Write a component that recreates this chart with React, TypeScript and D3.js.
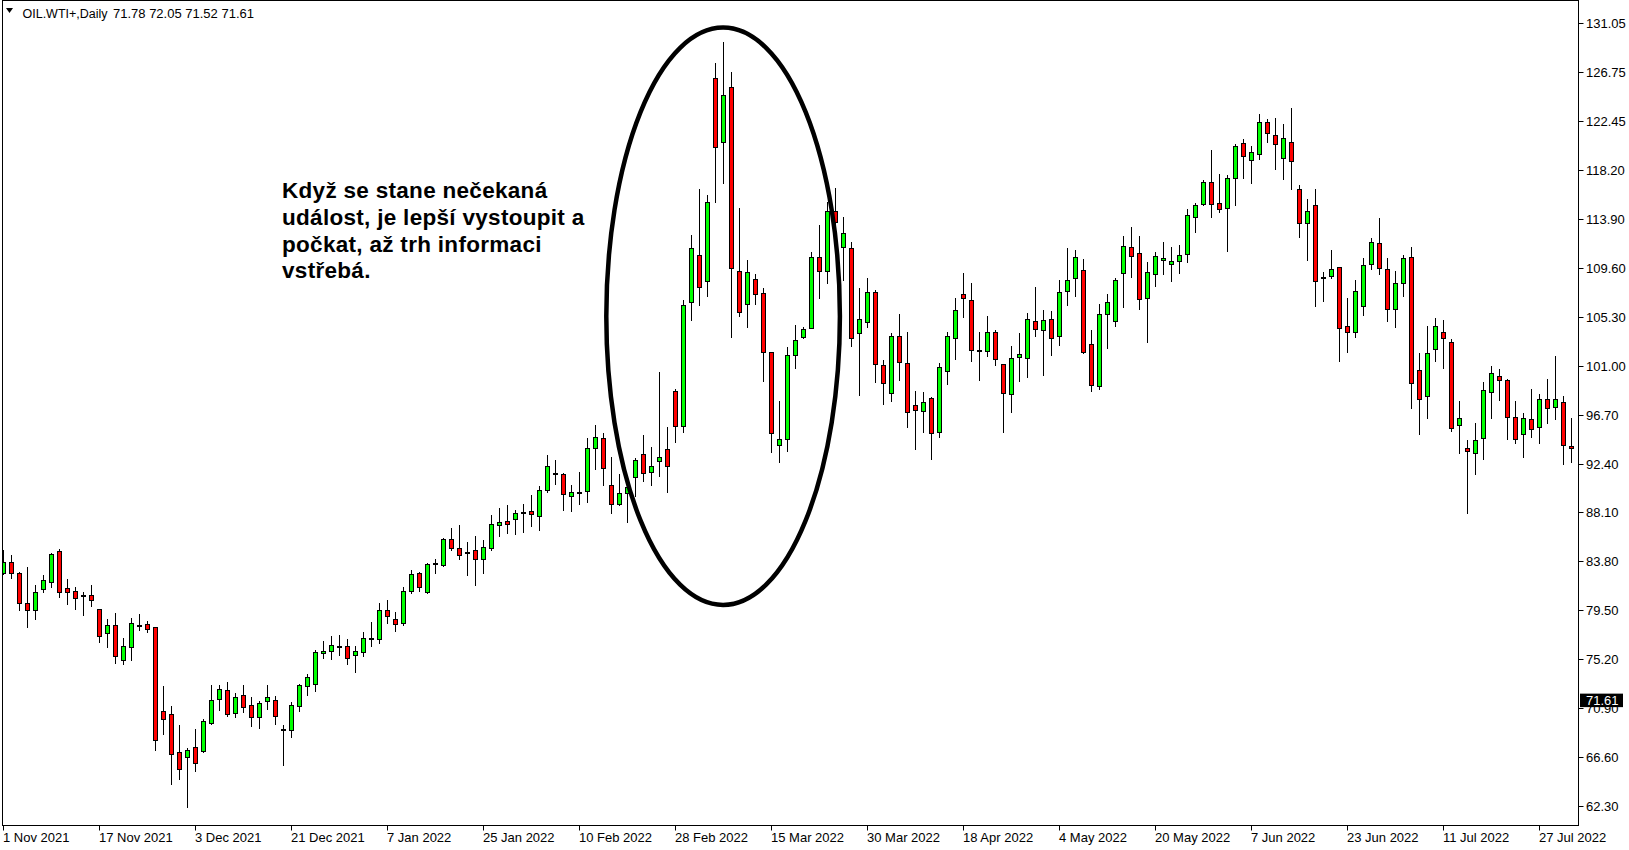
import React from "react";
import * as d3 from "d3";

// ---- Data ----
const opens = [
  82.79, 83.76, 82.74, 80.10, 79.49, 81.39, 82.00, 84.70, 81.42, 81.19,
  80.81, 80.83, 79.58, 77.47, 78.17, 75.10, 76.24, 78.20, 78.26, 77.99,
  70.62, 70.36, 67.03, 66.59, 67.46, 67.17, 69.63, 71.68, 72.47, 70.45,
  72.03, 71.15, 70.10, 71.50, 71.59, 69.08, 69.02, 71.13, 72.88, 73.00,
  75.72, 75.90, 76.33, 76.33, 75.55, 75.81, 77.04, 76.95, 79.49, 78.70,
  78.35, 81.16, 82.74, 81.07, 83.65, 83.44, 85.76, 84.94, 84.61, 84.76,
  83.97, 84.99, 87.01, 87.31, 87.54, 88.15, 88.18, 87.74, 90.08, 91.57,
  91.43, 89.55, 89.90, 89.93, 93.71, 94.59, 90.46, 88.85, 89.76, 91.16,
  93.18, 91.60, 92.57, 93.62, 98.74, 95.69, 106.58, 110.64, 108.42, 126.18,
  120.62, 125.39, 109.24, 106.40, 108.54, 107.31, 102.19, 93.97, 94.49, 101.87,
  103.45, 104.24, 110.53, 109.24, 114.51, 111.41, 111.26, 103.80, 104.77, 107.40,
  100.99, 98.53, 103.54, 101.17, 97.48, 96.95, 98.10, 95.11, 100.47, 103.36,
  107.22, 106.70, 102.37, 102.22, 103.89, 101.08, 98.45, 101.70, 101.61, 104.85,
  104.06, 105.03, 103.60, 107.49, 108.63, 109.33, 102.84, 99.15, 105.47, 104.86,
  109.07, 111.35, 110.82, 106.87, 108.98, 110.21, 109.86, 110.12, 110.74, 113.98,
  115.18, 117.06, 115.21, 114.77, 117.41, 120.48, 119.00, 119.51, 122.32, 121.18,
  119.16, 120.57, 116.44, 113.46, 115.04, 108.75, 108.83, 109.60, 104.41, 103.89,
  106.23, 109.86, 111.70, 109.48, 105.91, 108.19, 110.47, 100.55, 98.27, 102.40,
  103.89, 103.01, 95.72, 93.71, 93.27, 94.58, 98.62, 100.03, 99.67, 96.43,
  94.94, 96.25, 95.55, 98.01, 97.31, 97.74, 93.88,
];
const highs = [
  84.78, 84.35, 82.82, 83.29, 81.71, 82.59, 84.55, 84.87, 82.24, 81.57,
  81.13, 81.71, 79.58, 78.73, 79.25, 77.06, 78.82, 79.17, 78.52, 77.99,
  72.88, 71.09, 69.42, 67.38, 69.07, 69.98, 72.94, 72.94, 73.17, 72.20,
  72.94, 71.85, 71.50, 72.94, 71.98, 69.43, 71.45, 73.00, 73.91, 76.01,
  76.80, 77.24, 77.33, 76.98, 76.36, 77.59, 78.47, 80.14, 80.40, 79.35,
  81.51, 83.03, 82.83, 83.62, 84.00, 85.81, 86.72, 86.98, 85.49, 86.02,
  85.67, 87.83, 88.45, 88.74, 88.30, 88.83, 89.61, 90.40, 93.12, 92.65,
  91.54, 90.49, 91.63, 94.61, 95.76, 95.05, 92.95, 91.45, 90.63, 92.83,
  94.88, 93.80, 100.43, 95.58, 98.88, 106.72, 112.43, 116.47, 115.94, 127.55,
  129.34, 126.74, 114.77, 110.24, 109.00, 107.75, 102.19, 97.86, 102.57, 104.53,
  104.38, 110.91, 113.28, 115.36, 116.55, 114.04, 111.79, 107.75, 108.63, 107.60,
  101.46, 103.80, 105.50, 103.92, 98.71, 98.62, 98.18, 101.17, 103.92, 106.87,
  109.07, 108.19, 103.92, 105.29, 104.09, 101.08, 102.69, 103.80, 105.56, 107.84,
  105.85, 105.76, 108.48, 111.26, 111.12, 110.30, 104.09, 106.35, 107.25, 108.63,
  112.35, 113.14, 112.35, 110.03, 110.91, 111.79, 111.35, 111.53, 114.69, 115.21,
  117.26, 119.89, 117.79, 117.67, 120.42, 120.83, 120.22, 123.02, 122.59, 122.67,
  122.18, 123.55, 116.79, 115.56, 116.44, 109.21, 111.09, 109.60, 106.87, 108.48,
  110.38, 112.14, 113.89, 110.38, 109.24, 110.65, 111.35, 102.04, 104.44, 105.15,
  104.97, 103.27, 97.86, 94.41, 95.90, 99.50, 100.90, 100.64, 99.76, 97.86,
  96.81, 98.88, 98.45, 99.76, 101.78, 98.27, 96.34,
];
const lows = [
  82.65, 82.36, 79.52, 78.06, 78.76, 81.10, 81.57, 80.69, 80.07, 79.63,
  79.11, 79.90, 76.74, 76.30, 74.90, 74.81, 75.16, 77.79, 77.62, 67.26,
  68.66, 64.28, 64.71, 62.26, 65.42, 67.08, 69.48, 70.77, 70.24, 70.16,
  70.57, 69.37, 69.19, 70.86, 69.55, 65.92, 68.41, 70.69, 72.09, 72.44,
  75.34, 75.25, 75.60, 74.81, 74.11, 75.52, 76.39, 76.60, 78.41, 77.71,
  78.24, 81.04, 81.22, 80.99, 82.80, 83.41, 84.82, 84.03, 82.62, 81.75,
  82.80, 84.82, 86.05, 86.31, 86.22, 86.40, 86.92, 86.57, 89.90, 90.61,
  88.32, 88.24, 88.85, 89.03, 91.92, 90.52, 88.06, 88.76, 87.27, 89.52,
  90.87, 90.52, 91.31, 89.90, 94.29, 95.17, 104.97, 106.29, 107.08, 115.36,
  117.02, 103.51, 105.35, 104.38, 106.37, 99.64, 93.41, 92.54, 93.50, 100.78,
  103.36, 104.24, 106.93, 108.25, 111.11, 108.48, 102.72, 98.40, 104.39, 99.56,
  97.63, 97.89, 99.73, 95.61, 93.68, 95.17, 92.80, 94.73, 99.38, 101.58,
  105.26, 101.40, 99.73, 101.81, 101.05, 95.17, 96.93, 99.65, 100.00, 103.57,
  100.14, 101.90, 102.78, 106.32, 107.11, 102.04, 98.77, 98.89, 102.54, 104.48,
  106.14, 108.78, 105.97, 103.07, 107.99, 109.04, 108.43, 109.13, 110.09, 112.73,
  115.07, 114.04, 114.45, 111.06, 115.10, 117.47, 117.03, 119.13, 120.62, 118.20,
  117.32, 116.50, 112.23, 110.27, 106.23, 106.67, 108.63, 101.40, 102.19, 103.51,
  105.41, 109.48, 109.04, 104.91, 104.39, 107.11, 97.28, 94.99, 96.40, 101.40,
  100.79, 95.20, 93.33, 88.06, 91.48, 92.74, 96.40, 97.98, 94.50, 94.15,
  92.92, 94.67, 94.15, 95.90, 96.25, 92.30, 92.48,
];
const closes = [
  83.76, 82.74, 80.10, 79.49, 81.07, 82.12, 84.43, 81.13, 81.07, 80.60,
  80.81, 80.43, 77.27, 78.17, 75.51, 76.33, 78.35, 78.20, 77.88, 68.08,
  69.92, 66.85, 65.53, 67.20, 66.06, 69.81, 71.59, 72.56, 70.42, 71.85,
  70.97, 70.10, 71.33, 71.85, 70.19, 69.08, 71.16, 72.91, 73.61, 75.81,
  75.90, 76.42, 76.33, 75.28, 75.90, 77.04, 77.04, 79.49, 78.97, 78.32,
  81.16, 82.65, 81.51, 83.53, 83.65, 85.76, 84.94, 84.32, 84.61, 83.97,
  85.02, 87.04, 87.22, 87.10, 88.01, 88.15, 87.91, 90.02, 92.13, 91.57,
  89.67, 89.85, 89.90, 93.71, 94.67, 91.95, 88.79, 89.82, 90.28, 92.65,
  91.51, 92.13, 92.92, 92.20, 95.69, 106.26, 111.26, 107.89, 115.30, 120.18,
  124.69, 109.50, 105.70, 109.15, 107.28, 102.19, 95.02, 94.49, 101.87, 103.18,
  104.21, 110.53, 109.24, 114.51, 113.60, 112.58, 103.36, 105.03, 107.40, 101.08,
  99.41, 103.54, 101.26, 96.87, 97.04, 97.74, 95.02, 100.85, 103.54, 105.82,
  106.87, 102.31, 102.37, 103.89, 101.52, 98.53, 101.61, 101.96, 105.03, 104.15,
  104.94, 103.36, 107.40, 108.45, 110.47, 102.19, 99.24, 105.47, 106.52, 108.45,
  111.44, 110.56, 106.79, 109.16, 110.56, 110.44, 110.12, 110.65, 114.16, 115.04,
  117.06, 115.12, 114.69, 117.41, 120.22, 119.34, 119.69, 122.32, 121.36, 120.39,
  120.92, 118.90, 113.46, 114.51, 108.37, 108.75, 109.48, 104.24, 103.89, 107.49,
  109.77, 111.79, 109.56, 105.91, 108.19, 110.38, 99.41, 98.01, 102.04, 104.41,
  103.36, 95.46, 96.34, 93.44, 94.41, 98.80, 100.29, 99.67, 96.43, 94.50,
  96.34, 95.37, 98.01, 97.22, 98.01, 93.97, 93.71,
];

const priceTickLabels = [
  "62.30", "66.60", "70.90", "75.20", "79.50", "83.80", "88.10", "92.40",
  "96.70", "101.00", "105.30", "109.60", "113.90", "118.20", "122.45", "126.75", "131.05",
];
const dateLabels = [
  "1 Nov 2021", "17 Nov 2021", "3 Dec 2021", "21 Dec 2021", "7 Jan 2022",
  "25 Jan 2022", "10 Feb 2022", "28 Feb 2022", "15 Mar 2022", "30 Mar 2022",
  "18 Apr 2022", "4 May 2022", "20 May 2022", "7 Jun 2022", "23 Jun 2022",
  "11 Jul 2022", "27 Jul 2022",
];
const dateLabelBars = [0, 12, 24, 36, 48, 60, 72, 84, 96, 108, 120, 132, 144, 156, 168, 180, 192];

const symbolTitle = "OIL.WTI+,Daily";
const ohlcTitle = "71.78 72.05 71.52 71.61";
const currentPrice = 71.61;

const noteLines = [
  "Když se stane nečekaná",
  "událost, je lepší vystoupit a",
  "počkat, až trh informaci",
  "vstřebá.",
];

// highlight ellipse in data units
const ellipseCenterBar = 89.95;
const ellipseCenterPrice = 105.3;
const ellipseHalfBars = 14.6;
const ellipseHalfPrice = 25.34;

const W = 1629;
const H = 850;
const FRAME_L = 2.5;
const FRAME_T = 0.5;
const FRAME_R = 1578.5;
const FRAME_B = 825.5;

const FONT = "'Liberation Sans', Arial, sans-serif";

export default function App() {
  const n = opens.length;
  const x = d3.scaleLinear().domain([0, n - 1]).range([3.5, 3.5 + 8 * (n - 1)]);
  const y = d3
    .scaleLinear()
    .domain([62.3, 131.05])
    .range([806.2, 22.9]);

  const tickVals = priceTickLabels.map((_, i) => 62.3 + (i * (131.05 - 62.3)) / (priceTickLabels.length - 1));

  const candles = opens.map((o, i) => {
    const c = closes[i];
    const hi = highs[i];
    const lo = lows[i];
    const cx = x(i);
    const yt = Math.round(y(Math.max(o, c)));
    const yb = Math.round(y(Math.min(o, c)));
    const hgt = Math.max(yb - yt, 1);
    const fill = c > o ? "#00ff00" : c < o ? "#ff0000" : "#000000";
    return (
      <g key={i}>
        <line
          x1={cx}
          x2={cx}
          y1={Math.round(y(hi))}
          y2={Math.round(y(lo)) + 1}
          stroke="#000"
          strokeWidth={1}
        />
        <rect
          x={cx - 2}
          y={yt + 0.5}
          width={4}
          height={hgt}
          fill={fill}
          stroke="#000"
          strokeWidth={1}
        />
      </g>
    );
  });

  const ecx = x(ellipseCenterBar);
  const ecy = y(ellipseCenterPrice);
  const erx = x(ellipseCenterBar + ellipseHalfBars) - ecx;
  const ery = y(ellipseCenterPrice - ellipseHalfPrice) - ecy;

  const cpY = y(currentPrice);

  return (
    <svg
      width={W}
      height={H}
      style={{ position: "absolute", left: 0, top: 0, background: "#fff" }}
      fontFamily={FONT}
    >
      <rect x={0} y={0} width={W} height={H} fill="#fff" />
      <defs>
        <clipPath id="plot">
          <rect x={FRAME_L} y={FRAME_T} width={FRAME_R - FRAME_L} height={FRAME_B - FRAME_T} />
        </clipPath>
      </defs>
      <g clipPath="url(#plot)">{candles}</g>

      {/* highlight ellipse */}
      <ellipse cx={ecx} cy={ecy} rx={erx} ry={ery} fill="none" stroke="#000" strokeWidth={4.5} />

      {/* annotation text */}
      <text x={282} y={197.7} fontSize={22.5} fontWeight="bold" letterSpacing={0.3} fill="#000">
        {noteLines.map((l, i) => (
          <tspan key={i} x={282} dy={i === 0 ? 0 : 26.9}>
            {l}
          </tspan>
        ))}
      </text>

      {/* frame */}
      <rect
        x={FRAME_L}
        y={FRAME_T}
        width={FRAME_R - FRAME_L}
        height={FRAME_B - FRAME_T}
        fill="none"
        stroke="#000"
        strokeWidth={1}
      />

      {/* right price axis */}
      {tickVals.map((v, i) => {
        const ty = Math.round(y(v)) + 0.5;
        return (
          <g key={i}>
            <line x1={FRAME_R} x2={FRAME_R + 5} y1={ty} y2={ty} stroke="#000" />
            <text x={1586} y={ty} dy="0.36em" fontSize={13} fill="#000">
              {priceTickLabels[i]}
            </text>
          </g>
        );
      })}
      <rect x={1580} y={cpY - 6.5} width={43} height={13.5} fill="#000" />
      <text x={1586} y={cpY} dy="0.36em" fontSize={13} fill="#fff">
        {currentPrice.toFixed(2)}
      </text>

      {/* bottom date axis */}
      {dateLabelBars.map((b, i) => {
        const tx = x(b);
        return (
          <g key={i}>
            <line x1={tx} x2={tx} y1={FRAME_B} y2={FRAME_B + 5} stroke="#000" />
            <text x={tx - 0.5} y={837.5} dy="0.36em" fontSize={13} fill="#000">
              {dateLabels[i]}
            </text>
          </g>
        );
      })}

      {/* header */}
      <path d="M6,8 L13,8 L9.5,13 Z" fill="#000" />
      <text x={22.5} y={18} fontSize={12.5} fill="#000">
        {symbolTitle}
      </text>
      <text x={113} y={18} fontSize={13} fill="#000">
        {ohlcTitle}
      </text>
    </svg>
  );
}
